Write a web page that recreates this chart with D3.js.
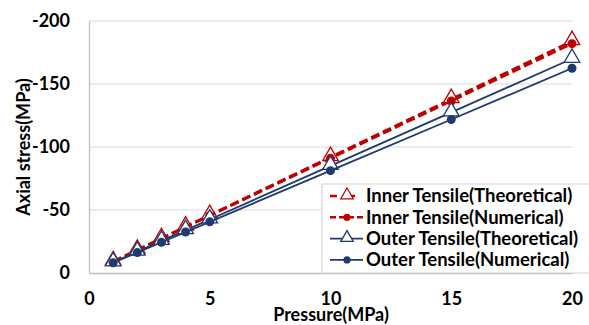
<!DOCTYPE html>
<html lang="en">
<head>
<meta charset="UTF-8">
<title>Axial stress vs pressure</title>
<script src="https://d3js.org/d3.v7.min.js"></script>
<style>
  body { margin: 0; background: #fff; }
  text { font-family: Lato, "Open Sans", sans-serif; font-weight: bold; fill: #000; }
</style>
</head>
<body>
<svg width="589" height="325"></svg>
<script>
// pressure (MPa)
const pressure = [1, 2, 3, 4, 5, 10, 15, 20];
// axial stress values (MPa)
const innerTheo = [-9.2, -18.4, -27.6, -36.8, -46, -92, -138, -184];
const innerNum  = [-9.0, -18.1, -27.2, -36.3, -45.4, -91, -136.5, -182];
const outerTheo = [-8.5, -17, -25.5, -34, -42.5, -85, -127.5, -170];
const outerNum  = [-8.1, -16.2, -24.4, -32.5, -40.6, -81.2, -121.8, -162.5];
const seriesNames = ["Inner Tensile(Theoretical)", "Inner Tensile(Numerical)",
                     "Outer Tensile(Theoretical)", "Outer Tensile(Numerical)"];
const xTicks = [0, 5, 10, 15, 20];
const yTicks = [0, -50, -100, -150, -200];

const red = "#c00000", navy = "#1f3a6e";
const series = [
  { name: seriesNames[0], vals: innerTheo, color: red,  dash: "9,4", width: 2.6, marker: "tri", legDash: "7,11" },
  { name: seriesNames[1], vals: innerNum,  color: red,  dash: "9,4", width: 2.6, marker: "dot", legDash: "6,3" },
  { name: seriesNames[2], vals: outerTheo, color: navy, dash: null,  width: 1.8, marker: "tri", legDash: null },
  { name: seriesNames[3], vals: outerNum,  color: navy, dash: null,  width: 1.8, marker: "dot", legDash: null }
];

const svg = d3.select("svg");
const m = { left: 89, right: 572, top: 21, bottom: 273 };
const x = d3.scaleLinear().domain([0, 20]).range([m.left, m.right]);
const y = d3.scaleLinear().domain([0, -200]).range([m.bottom, m.top]);

// gridlines
svg.append("g").selectAll("line")
  .data(yTicks.filter(d => d !== 0)).enter().append("line")
  .attr("x1", m.left).attr("x2", m.right)
  .attr("y1", d => y(d)).attr("y2", d => y(d))
  .attr("stroke", "#d9d9d9").attr("stroke-width", 1);

// axes
const yAxis = svg.append("g").attr("transform", `translate(${m.left},0)`)
  .call(d3.axisLeft(y).tickValues(yTicks).tickFormat(d => String(d)).tickSize(0).tickPadding(19));
const xAxis = svg.append("g").attr("transform", `translate(0,${m.bottom})`)
  .call(d3.axisBottom(x).tickValues(xTicks).tickFormat(d => String(d)).tickSize(0).tickPadding(19));
[yAxis, xAxis].forEach(a => {
  a.select(".domain").attr("stroke", "#bfbfbf").attr("stroke-width", 1.3);
  a.selectAll("text").style("font-size", "18px").style("font-family", "Lato, sans-serif").style("font-weight", "bold");
});

svg.append("text").attr("x", 331).attr("y", 321).attr("text-anchor", "middle")
  .style("font-size", "18px").text("Pressure(MPa)");
svg.append("text").attr("transform", `translate(30,147) rotate(-90)`)
  .attr("text-anchor", "middle").style("font-size", "18px").text("Axial stress(MPa)");

function marker(g, s, px, py, scale) {
  if (s.marker === "tri") {
    const tri = d3.symbol().type(d3.symbolTriangle).size(105 * scale * scale);
    g.append("path").attr("d", tri()).attr("transform", `translate(${px},${py - scale})`)
      .attr("fill", "#fff").attr("stroke", s.color).attr("stroke-width", 1.3);
  } else {
    g.append("circle").attr("cx", px).attr("cy", py).attr("r", 4.5 * scale).attr("fill", s.color);
  }
}

const line = d3.line().x((d, i) => x(pressure[i])).y(d => y(d));
series.forEach(s => {
  const g = svg.append("g");
  g.append("path").datum(s.vals).attr("d", line).attr("fill", "none")
    .attr("stroke", s.color).attr("stroke-width", s.width)
    .attr("stroke-dasharray", s.dash);
  s.vals.forEach((v, i) => marker(g, s, x(pressure[i]), y(v), 1));
});

// legend
const lg = svg.append("g");
lg.append("rect").attr("x", 322).attr("y", 184).attr("width", 270).attr("height", 89)
  .attr("fill", "#fff").attr("stroke", "#d0d0d0");
series.forEach((s, i) => {
  const ly = 196 + i * 21.3;
  lg.append("line").attr("x1", 330).attr("x2", 363).attr("y1", ly).attr("y2", ly)
    .attr("stroke", s.color).attr("stroke-width", s.width)
    .attr("stroke-dasharray", s.legDash);
  marker(lg, s, 347, ly, 0.8);
  lg.append("text").attr("x", 366).attr("y", ly).attr("dy", "0.35em")
    .style("font-size", "18.5px").text(s.name);
});
</script>
</body>
</html>
